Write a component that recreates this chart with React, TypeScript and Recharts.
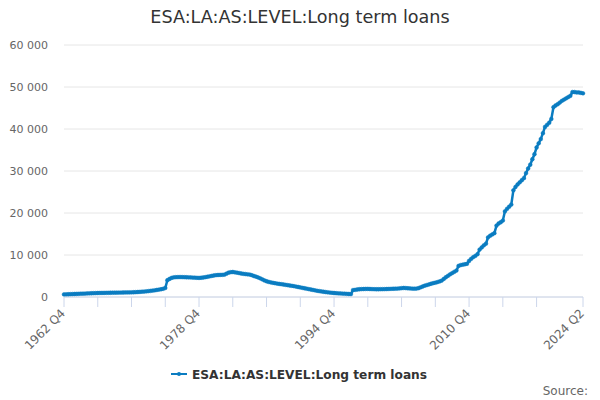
import React from "react";
import { LineChart, Line, XAxis, YAxis, CartesianGrid } from "recharts";

const START_YEAR = 1962;
const START_QUARTER = 4;

// Quarterly values, 1962 Q4 .. 2024 Q2
const v1962 = [620];
const v1963_1969 = [
  640, 660, 680, 700,
  720, 740, 760, 780,
  800, 820, 850, 870,
  890, 910, 930, 950,
  960, 970, 980, 990,
  1000, 1010, 1020, 1030,
  1040, 1050, 1060, 1070,
];
const v1970_1979 = [
  1080, 1090, 1100, 1110,
  1130, 1160, 1190, 1220,
  1260, 1300, 1350, 1400,
  1460, 1530, 1600, 1680,
  1760, 1850, 1950, 2150,
  4000, 4300, 4550, 4680,
  4720, 4740, 4750, 4740,
  4720, 4700, 4680, 4660,
  4630, 4600, 4570, 4550,
  4580, 4640, 4720, 4820,
];
const v1980_1989 = [
  4920, 5020, 5120, 5200,
  5240, 5260, 5280, 5320,
  5550, 5800, 5900, 5950,
  5880, 5800, 5700, 5600,
  5520, 5460, 5400, 5350,
  5200, 5000, 4850, 4650,
  4450, 4200, 3950, 3750,
  3600, 3480, 3380, 3280,
  3200, 3120, 3050, 2980,
  2900, 2820, 2740, 2660,
];
const v1990_1999 = [
  2580, 2480, 2380, 2280,
  2180, 2080, 1980, 1880,
  1780, 1680, 1580, 1480,
  1400, 1320, 1250, 1180,
  1120, 1060, 1000, 950,
  910, 870, 840, 810,
  780, 750, 720, 700,
  1650, 1700, 1780, 1850,
  1880, 1900, 1920, 1930,
  1900, 1880, 1860, 1850,
];
const v2000_2009 = [
  1850, 1860, 1870, 1880,
  1900, 1920, 1940, 1960,
  1980, 2000, 2050, 2100,
  2150, 2120, 2080, 2040,
  2000, 1980, 2000, 2100,
  2300, 2500, 2700, 2850,
  3000, 3150, 3300, 3400,
  3550, 3700, 3900, 4300,
  4700, 5050, 5400, 5700,
  6000, 6300, 7400, 7600,
];
const v2010_2019 = [
  7700, 7800, 7900, 8600,
  9100, 9500, 9800, 10200,
  11300, 11800, 12300, 12700,
  14200, 14600, 14900, 15200,
  17000, 17500, 17800, 18200,
  20400, 21000, 21500, 22000,
  25400, 26200, 26800, 27300,
  27800, 28300, 29500, 30600,
  31500, 32800, 34000, 35600,
  36600, 37600, 39000, 40500,
];
const v2020_2024 = [
  41000, 41500, 42400, 45200,
  45600, 45900, 46300, 46700,
  47000, 47300, 47600, 47900,
  48800, 48800, 48700, 48700,
  48600, 48500,
];

const seriesValues = [
  ...v1962,
  ...v1963_1969,
  ...v1970_1979,
  ...v1980_1989,
  ...v1990_1999,
  ...v2000_2009,
  ...v2010_2019,
  ...v2020_2024,
];

const categories = seriesValues.map((_, i) => {
  const q0 = START_QUARTER - 1 + i;
  const year = START_YEAR + Math.floor(q0 / 4);
  return `${year} Q${(q0 % 4) + 1}`;
});

const tickCategories = [
  "1962 Q4", "1966 Q4", "1970 Q4", "1974 Q4", "1978 Q4", "1982 Q4", "1986 Q4",
  "1990 Q4", "1994 Q4", "1998 Q4", "2002 Q4", "2006 Q4", "2010 Q4", "2014 Q4",
  "2018 Q4", "2024 Q2",
];
const labelledTicks = ["1962 Q4", "1978 Q4", "1994 Q4", "2010 Q4", "2024 Q2"];
const yTicks = [0, 10000, 20000, 30000, 40000, 50000, 60000];

const TITLE = "ESA:LA:AS:LEVEL:Long term loans";
const SERIES_NAME = "ESA:LA:AS:LEVEL:Long term loans";

const data = categories.map((c, i) => ({ label: c, value: seriesValues[i] }));

const FONT = "'DejaVu Sans', Verdana, sans-serif";
const BLUE = "#0a7cc1";

const fmt = (v: number) => String(v).replace(/\B(?=(\d{3})+(?!\d))/g, " ");

const XTick = (props: any) => {
  const { x, y, payload } = props;
  if (!labelledTicks.includes(payload.value)) return null;
  const tx = x + 2;
  const ty = y + 5;
  return (
    <text
      x={tx}
      y={ty}
      textAnchor="end"
      fontSize={12}
      fill="#666666"
      fontFamily={FONT}
      transform={`rotate(-45, ${tx}, ${ty})`}
    >
      {payload.value}
    </text>
  );
};

export default function App() {
  return (
    <div style={{ position: "absolute", left: 0, top: 0, width: 600, height: 400, background: "#fff" }}>
      <LineChart
        width={600}
        height={400}
        data={data}
        margin={{ top: 45, right: 17, left: 0, bottom: 0 }}
      >
        <CartesianGrid vertical={false} stroke="#e6e6e6" />
        <XAxis
          dataKey="label"
          ticks={tickCategories}
          interval={0}
          height={103}
          stroke="#ccd6eb"
          tickSize={10}
          tickMargin={2}
          tick={<XTick />}
        />
        <YAxis
          width={64}
          domain={[0, 60000]}
          ticks={yTicks}
          axisLine={false}
          tickLine={false}
          tickSize={0}
          tickMargin={16}
          tickFormatter={fmt}
          tick={{ fontSize: 11, fill: "#666666", fontFamily: FONT }}
        />
        <Line
          type="linear"
          dataKey="value"
          stroke={BLUE}
          strokeWidth={2.5}
          dot={{ r: 1.9, fill: BLUE, stroke: BLUE, strokeWidth: 0.5 }}
          isAnimationActive={false}
        />
      </LineChart>
      <svg
        width={600}
        height={400}
        style={{ position: "absolute", left: 0, top: 0, pointerEvents: "none" }}
      >
        <text x={300} y={23} textAnchor="middle" fontSize={17.6} fill="#333333" fontFamily={FONT}>
          {TITLE}
        </text>
        <line x1={171} y1={374} x2={187} y2={374} stroke={BLUE} strokeWidth={2} />
        <circle cx={179} cy={374} r={2} fill={BLUE} />
        <text x={192} y={378.5} fontSize={12.2} fontWeight="bold" fill="#333333" fontFamily={FONT}>
          {SERIES_NAME}
        </text>
        <text x={588} y={395} textAnchor="end" fontSize={12} fill="#666666" fontFamily={FONT}>
          Source:
        </text>
      </svg>
    </div>
  );
}
